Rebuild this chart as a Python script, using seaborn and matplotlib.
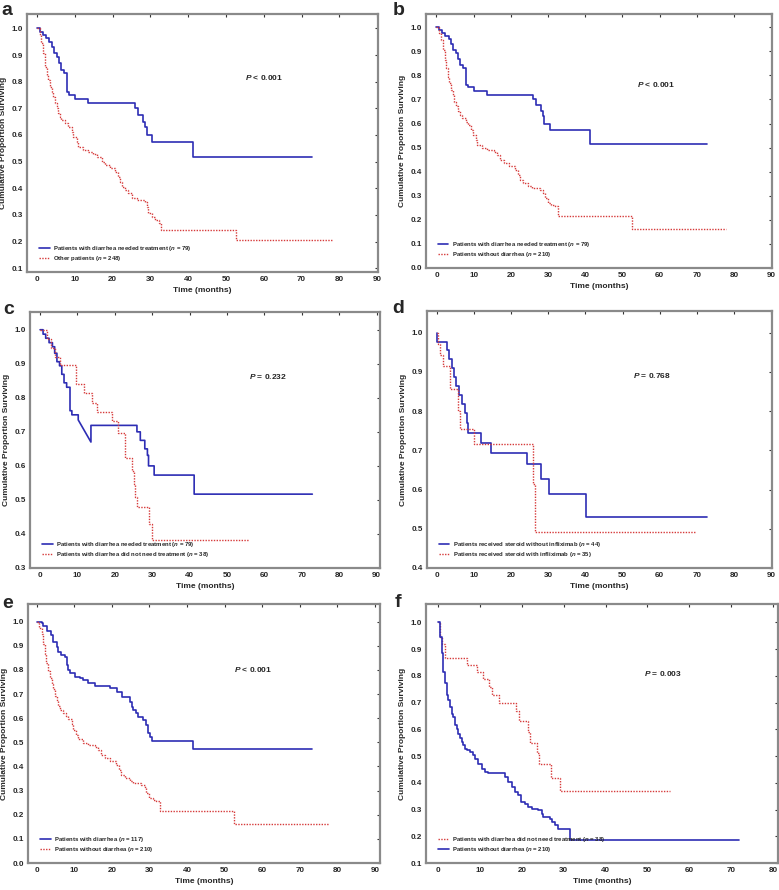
import matplotlib
matplotlib.use('Agg')
import matplotlib.pyplot as plt
import seaborn as sns

sns.set_theme(style='white')
plt.rcParams['font.family'] = ['Liberation Sans', 'DejaVu Sans']
plt.rcParams['mathtext.fontset'] = 'custom'
plt.rcParams['mathtext.it'] = 'Liberation Sans:italic:bold'
plt.rcParams['mathtext.rm'] = 'Liberation Sans:bold'
plt.rcParams['font.weight'] = 'bold'

# --- survival curves: event times (months) and survival after each step ---
# diarrhea needed treatment (n = 79)
trt79_t = [0.8, 1.5, 2.4, 3.3, 3.9, 4.5, 5.2, 5.8, 6.4, 7.1, 8.0, 8.5, 10.2, 13.6,
           25.9, 26.8, 28.0, 28.7, 29.0, 30.5, 41.2]
trt79_s = [0.987, 0.975, 0.962, 0.95, 0.931, 0.906, 0.894, 0.869, 0.844, 0.831, 0.762, 0.75,
           0.735, 0.719, 0.70, 0.675, 0.65, 0.631, 0.60, 0.573, 0.517]
trt79_end = 72.8
trt79_dip_c = 0.67   # panel c: curve slopes down to this value before the 13.6 step

# other patients (n = 248)
other_t = [0.8, 1.2, 1.7, 2.1, 2.6, 3.0, 3.4, 3.9, 4.3, 4.8, 5.2, 5.7, 6.1, 6.5, 7.4, 8.3,
           9.2, 9.6, 10.5, 10.9, 12.3, 13.6, 14.9, 15.8, 17.1, 18.0, 19.3, 20.6, 21.5, 22.0,
           22.4, 23.3, 24.2, 25.1, 26.4, 28.6, 29.0, 29.5, 30.4, 31.2, 32.2, 32.9, 52.7]
other_s = [0.975, 0.944, 0.906, 0.856, 0.825, 0.806, 0.781, 0.762, 0.744, 0.719, 0.70, 0.681,
           0.669, 0.656, 0.644, 0.631, 0.612, 0.594, 0.575, 0.556, 0.544, 0.535, 0.527, 0.519,
           0.50, 0.487, 0.475, 0.462, 0.444, 0.425, 0.406, 0.394, 0.381, 0.362, 0.356, 0.35,
           0.331, 0.306, 0.294, 0.281, 0.27, 0.245, 0.205]
other_end = 78.0

# without diarrhea (n = 210), panels b and e
nodia_t = [0.6, 1.3, 1.8, 2.2, 2.6, 3.1, 3.5, 4.0, 4.4, 4.8, 5.3, 5.7, 6.2, 7.0, 7.9, 8.4,
           9.3, 9.7, 10.6, 11.0, 12.3, 13.7, 15.4, 16.3, 17.2, 18.1, 19.4, 21.2, 22.0, 22.5,
           23.4, 24.7, 25.6, 27.8, 28.7, 29.1, 30.0, 30.9, 31.8, 32.8, 52.6]
nodia_s = [0.975, 0.947, 0.906, 0.864, 0.83, 0.795, 0.768, 0.74, 0.719, 0.691, 0.671, 0.65,
           0.636, 0.622, 0.608, 0.595, 0.574, 0.553, 0.532, 0.512, 0.498, 0.488, 0.481, 0.47,
           0.449, 0.436, 0.422, 0.408, 0.387, 0.366, 0.353, 0.339, 0.332, 0.325, 0.311, 0.29,
           0.27, 0.263, 0.256, 0.215, 0.162]
nodia_end = 77.8

# diarrhea did not need treatment (n = 38), panel c
notrt_c_t = [1.9, 2.8, 3.9, 5.4, 9.5, 11.7, 13.9, 15.2, 19.2, 20.9, 22.8, 24.6, 25.0, 25.4,
             25.8, 29.2, 29.8]
notrt_c_s = [0.974, 0.947, 0.921, 0.895, 0.841, 0.813, 0.786, 0.757, 0.732, 0.698, 0.624,
             0.585, 0.546, 0.51, 0.478, 0.43, 0.383]
notrt_c_end = 55.8

# steroid without infliximab (n = 44) / with infliximab (n = 35), panel d
noifx_t = [0.2, 2.8, 3.3, 4.0, 4.6, 5.3, 6.0, 6.8, 7.5, 8.1, 8.4, 11.9, 14.6, 24.3, 28.1,
           30.2, 40.1]
noifx_s = [0.977, 0.955, 0.932, 0.909, 0.886, 0.864, 0.841, 0.818, 0.795, 0.77, 0.745,
           0.719, 0.693, 0.664, 0.628, 0.589, 0.53]
noifx_end = 72.6
ifx_t = [0.4, 1.0, 1.6, 3.7, 5.7, 6.2, 10.1, 25.9, 26.4]
ifx_s = [0.971, 0.943, 0.914, 0.857, 0.80, 0.754, 0.717, 0.613, 0.492]
ifx_end = 69.7

# with diarrhea (n = 117), panel e
dia_t = [1.3, 1.8, 2.8, 3.7, 4.4, 5.3, 5.8, 6.6, 7.5, 8.2, 8.4, 9.0, 10.2, 11.5, 12.4, 13.7,
         15.5, 19.5, 21.3, 22.6, 24.8, 25.3, 25.7, 26.4, 27.0, 28.4, 29.1, 29.7, 30.1, 30.8,
         41.7]
dia_s = [0.993, 0.982, 0.963, 0.945, 0.917, 0.896, 0.876, 0.862, 0.855, 0.82, 0.80, 0.786,
         0.772, 0.765, 0.758, 0.744, 0.733, 0.724, 0.71, 0.686, 0.668, 0.647, 0.634, 0.62,
         0.606, 0.592, 0.571, 0.537, 0.523, 0.505, 0.472]
dia_end = 73.2

# panel f: without diarrhea (n = 210) and did not need treatment (n = 38)
nodia_f_t = [0.4, 0.8, 1.2, 1.6, 2.0, 2.4, 2.8, 3.2, 3.6, 4.0, 4.4, 4.8, 5.2, 5.6, 6.0, 6.4,
             6.8, 7.6, 8.4, 8.8, 9.6, 10.4, 11.2, 12.0, 15.9, 16.8, 17.6, 18.3, 19.1, 19.9,
             20.7, 21.5, 22.3, 23.9, 24.7, 25.1, 26.7, 27.1, 27.9, 28.7, 31.4]
nodia_f_s = [0.946, 0.884, 0.815, 0.772, 0.728, 0.709, 0.684, 0.659, 0.647, 0.616, 0.603,
             0.584, 0.566, 0.553, 0.541, 0.528, 0.522, 0.516, 0.503, 0.491, 0.472, 0.453,
             0.441, 0.435, 0.422, 0.403, 0.384, 0.366, 0.353, 0.328, 0.322, 0.31, 0.304, 0.30,
             0.285, 0.272, 0.266, 0.253, 0.241, 0.229, 0.186]
nodia_f_end = 71.8
notrt_f_t = [0.5, 1.0, 1.6, 7.0, 9.2, 10.8, 12.2, 12.9, 14.5, 18.6, 19.4, 21.5, 22.0, 23.5,
             24.0, 27.0, 29.1]
notrt_f_s = [0.947, 0.92, 0.868, 0.842, 0.815, 0.789, 0.757, 0.73, 0.70, 0.67, 0.63, 0.59,
             0.55, 0.51, 0.47, 0.42, 0.368]
notrt_f_end = 55.4

lab_trt79 = 'Patients with diarrhea needed treatment ($n$ = 79)'
lab_other = 'Other patients ($n$ = 248)'
lab_nodia = 'Patients without diarrhea ($n$ = 210)'
lab_notrt = 'Patients with diarrhea did not need treatment ($n$ = 38)'
lab_noifx = 'Patients received steroid without infliximab ($n$ = 44)'
lab_ifx = 'Patients received steroid with infliximab ($n$ = 35)'
lab_dia = 'Patients with diarrhea ($n$ = 117)'

p_values = ['< 0.001', '< 0.001', '= 0.232', '= 0.768', '< 0.001', '= 0.003']


def km_xy(t, s, end, dip=None):
    xs, ys, prev = [0.0], [1.0], 1.0
    for ti, si in zip(t, s):
        xs += [ti, ti]
        ys += [prev, si]
        prev = si
    xs.append(end)
    ys.append(prev)
    if dip is not None:
        i = t.index(dip[0])
        ys[1 + 2 * i] = dip[1]
    return xs, ys


BLUE = '#2d2db4'
RED = '#d63a3a'
solid = dict(color=BLUE, lw=1.2, ls='-')
dotted = dict(color=RED, lw=1.0, ls=(0, (1, 1)))

panels = [
    dict(letter='a', rect=[0.0347, 0.6944, 0.4506, 0.2899], ylim=(0.086, 1.054), ymin=0.1,
         xlim=(-2.6, 90.2), xmax=90, p=(60, 0.817),
         curves=[(trt79_t, trt79_s, trt79_end, solid, lab_trt79, None),
                 (other_t, other_s, other_end, dotted, lab_other, None)]),
    dict(letter='b', rect=[0.5469, 0.6989, 0.4435, 0.2854], ylim=(0.0, 1.055), ymin=0.0,
         xlim=(-2.8, 90.1), xmax=90, p=(59, 0.76),
         curves=[(trt79_t, trt79_s, trt79_end, solid, lab_trt79, None),
                 (nodia_t, nodia_s, nodia_end, dotted, lab_nodia, None)]),
    dict(letter='c', rect=[0.0385, 0.3618, 0.4493, 0.2876], ylim=(0.3, 1.052), ymin=0.3,
         xlim=(-2.7, 90.9), xmax=90, p=(61, 0.862),
         curves=[(trt79_t, trt79_s, trt79_end, solid, lab_trt79, (13.6, trt79_dip_c)),
                 (notrt_c_t, notrt_c_s, notrt_c_end, dotted, lab_notrt, None)]),
    dict(letter='d', rect=[0.5481, 0.3618, 0.4435, 0.2888], ylim=(0.4, 1.055), ymin=0.4,
         xlim=(-2.6, 90.3), xmax=90, p=(58, 0.89),
         curves=[(noifx_t, noifx_s, noifx_end, solid, lab_noifx, None),
                 (ifx_t, ifx_s, ifx_end, dotted, lab_ifx, None)]),
    dict(letter='e', rect=[0.0359, 0.0303, 0.4519, 0.291], ylim=(0.0, 1.073), ymin=0.0,
         xlim=(-2.3, 91.3), xmax=90, p=(57.6, 0.80),
         curves=[(dia_t, dia_s, dia_end, solid, lab_dia, None),
                 (nodia_t, nodia_s, nodia_end, dotted, lab_nodia, None)]),
    dict(letter='f', rect=[0.5469, 0.0303, 0.4519, 0.291], ylim=(0.1, 1.069), ymin=0.1,
         xlim=(-2.9, 81.2), xmax=80, p=(53.7, 0.81),
         curves=[(notrt_f_t, notrt_f_s, notrt_f_end, dotted, lab_notrt, None),
                 (nodia_f_t, nodia_f_s, nodia_f_end, solid, lab_nodia, None)]),
]
letter_y = [15, 15, 314, 313, 608, 607]
letter_x = [1, 393, 3, 392, 2, 395]

fig = plt.figure(figsize=(7.79, 8.90), dpi=100)
fig.patch.set_facecolor('white')

for k, pnl in enumerate(panels):
    ax = fig.add_axes(pnl['rect'])
    for t, s, end, style, lab, dip in pnl['curves']:
        xs, ys = km_xy(t, s, end, dip)
        sns.lineplot(x=xs, y=ys, estimator=None, sort=False, ax=ax, label=lab, **style)
    ax.set_xlim(*pnl['xlim'])
    ax.set_ylim(*pnl['ylim'])
    ax.set_xticks(range(0, pnl['xmax'] + 1, 10))
    yt = [round(pnl['ymin'] + 0.1 * i, 1) for i in range(int(round((1.0 - pnl['ymin']) / 0.1)) + 1)]
    ax.set_yticks(yt)
    ax.set_yticklabels([f'{v:.1f}' for v in yt])
    ax.tick_params(direction='in', length=2.5, width=0.8, color='#333333', labelsize=5.8,
                   top=True, right=True, labeltop=False, labelright=False, pad=3)
    for lbl in ax.get_xticklabels() + ax.get_yticklabels():
        lbl.set_fontweight('bold')
    for sp in ax.spines.values():
        sp.set_color('#8a8a8a')
        sp.set_linewidth(1.6)
    ax.set_xlabel('Time (months)', fontsize=6, fontweight='bold', labelpad=3)
    ax.set_ylabel('Cumulative Proportion Surviving', fontsize=6, fontweight='bold', labelpad=3)
    ax.text(pnl['p'][0], pnl['p'][1], '$P$ ' + p_values[k], fontsize=6, fontweight='bold',
            ha='center', va='center')
    leg = ax.legend(loc='lower left', bbox_to_anchor=(0.02, 0.015), frameon=False,
                    handlelength=1.8, handletextpad=0.6, labelspacing=0.25, borderpad=0.3,
                    prop={'size': 4.3, 'weight': 'bold'})
    fig.text(letter_x[k] / 779, 1 - letter_y[k] / 890, pnl['letter'], fontsize=14,
             fontweight='bold', ha='left', va='baseline')

fig.savefig('out.png', dpi=100, facecolor='white')
